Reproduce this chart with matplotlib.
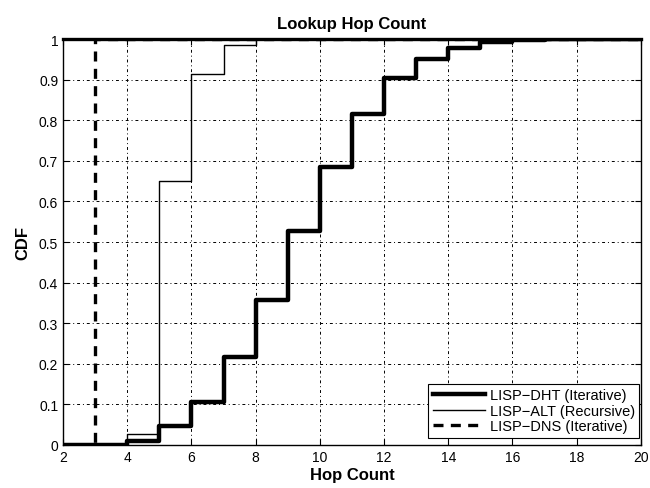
import matplotlib
matplotlib.use("Agg")
import matplotlib.pyplot as plt

# Hop counts and CDF values for each lookup scheme
hops = [2, 3, 4, 5, 6, 7, 8, 9, 10, 11, 12, 13, 14, 15, 16, 17, 18, 19, 20]
cdf_dht = [0, 0, 0.01, 0.047, 0.106, 0.217, 0.357, 0.527, 0.686, 0.816, 0.905,
           0.95, 0.978, 0.992, 0.997, 1.0, 1.0, 1.0, 1.0]
cdf_alt = [0, 0, 0.027, 0.65, 0.915, 0.985, 1.0, 1.0, 1.0, 1.0, 1.0,
           1.0, 1.0, 1.0, 1.0, 1.0, 1.0, 1.0, 1.0]
cdf_dns = [0, 1.0, 1.0, 1.0, 1.0, 1.0, 1.0, 1.0, 1.0, 1.0, 1.0,
           1.0, 1.0, 1.0, 1.0, 1.0, 1.0, 1.0, 1.0]

series_labels = ["LISP\u2212DHT (Iterative)", "LISP\u2212ALT (Recursive)",
                 "LISP\u2212DNS (Iterative)"]
xticks = list(range(2, 21, 2))
yticks = [i / 10 for i in range(11)]

plt.rcParams["font.family"] = ["Liberation Sans", "DejaVu Sans"]

fig = plt.figure(figsize=(6.5, 4.89), dpi=100)
ax = fig.add_axes([0.097, 0.088, 0.889, 0.830])

ax.step(hops, cdf_dht, where="post", color="black", lw=3.2,
        label=series_labels[0], zorder=4)
ax.step(hops, cdf_alt, where="post", color="black", lw=1.0,
        label=series_labels[1], zorder=3)
ax.step(hops, cdf_dns, where="post", color="black", lw=2.4,
        linestyle=(0, (3, 2.2)), label=series_labels[2], zorder=3)

ax.set_xlim(2, 20)
ax.set_ylim(0, 1)
ax.set_xticks(xticks)
ax.set_xticklabels([str(t) for t in xticks])
ax.set_yticks(yticks)
ax.set_yticklabels(["0"] + [f"{t:g}" for t in yticks[1:-1]] + ["1"])

ax.grid(True, color="black", linestyle=(0, (1, 3, 3, 3)), lw=0.7)
ax.tick_params(direction="in", top=True, right=True, length=4,
               labelsize=10, width=0.8)
for s in ax.spines.values():
    s.set_linewidth(1.0)
    s.set_zorder(6)
ax.spines["top"].set_linewidth(2.4)

ax.set_title("Lookup Hop Count", fontsize=12, fontweight="bold", pad=8)
ax.set_xlabel("Hop Count", fontsize=12, fontweight="bold", labelpad=2)
ax.set_ylabel("CDF", fontsize=12, fontweight="bold", labelpad=6)

leg = ax.legend(loc="lower right", bbox_to_anchor=(0.997, 0.018),
                fontsize=10.5, frameon=True, fancybox=False,
                edgecolor="black", framealpha=1, handlelength=3.6,
                borderpad=0.3, labelspacing=0.1, handletextpad=0.3,
                borderaxespad=0.0)
leg.get_frame().set_linewidth(0.8)
leg.set_zorder(7)

fig.savefig("out.png", dpi=100)
